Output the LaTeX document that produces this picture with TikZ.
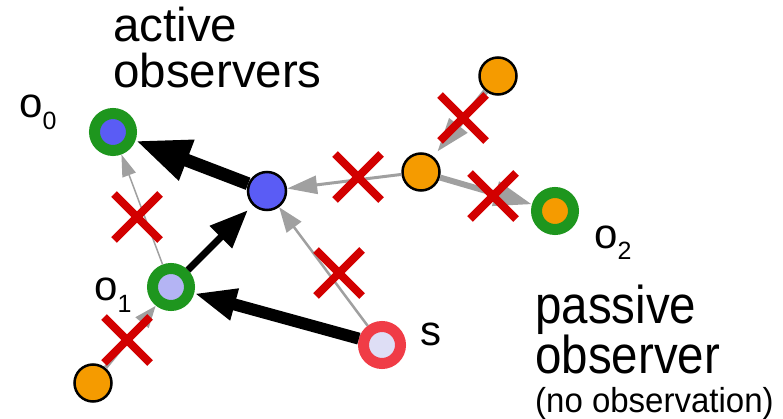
\documentclass[tikz,border=0pt]{standalone}
\usepackage{fontspec}
\setmainfont{Liberation Sans}
\usetikzlibrary{arrows.meta,calc}
\definecolor{ogreen}{RGB}{30,150,30}
\definecolor{oblue}{RGB}{90,92,245}
\definecolor{olav}{RGB}{180,180,244}
\definecolor{sred}{RGB}{240,60,70}
\definecolor{slav}{RGB}{222,222,245}
\definecolor{oorange}{RGB}{245,155,0}
\definecolor{egray}{RGB}{160,160,160}
\definecolor{xred}{RGB}{210,0,0}
\begin{document}
\begin{tikzpicture}[x=1pt,y=-1pt,
  ring/.style={circle, inner sep=0pt, minimum size=37pt, line width=11pt, draw=ogreen},
  srcring/.style={circle, inner sep=0pt, minimum size=37pt, line width=11pt, draw=sred, fill=slav},
  plainnode/.style={circle, inner sep=0pt, line width=2.5pt, draw=black},
  garrow/.style={draw=egray, fill=egray},
  barrow/.style={draw=black, fill=black},
  xmark/.pic={\draw[xred, line width=8pt] (-23,-23) -- (23,23) (-23,23) -- (23,-23);},
  txt/.style={anchor=base west, inner sep=0pt, font=\fontsize{47.5}{47.5}\selectfont},
]
\useasboundingbox (0,0) rectangle (783,419);

% nodes
\node[ring, fill=oblue] (o0) at (113,132) {};
\node[plainnode, fill=oblue, minimum size=38pt] (c) at (267,191) {};
\node[ring, fill=olav] (o1) at (171,287) {};
\node[srcring] (s) at (382,345) {};
\node[plainnode, fill=oorange, minimum size=37pt] (b) at (93,383) {};
\node[plainnode, fill=oorange, minimum size=37pt] (m) at (421,172) {};
\node[plainnode, fill=oorange, minimum size=37pt] (t) at (498,76) {};
\node[ring, fill=oorange] (o2) at (555,211) {};

% gray (blocked) edges
\draw[garrow, line width=1.5pt, -{Triangle[length=22pt,width=14pt]}] (o1) -- (o0);
\draw[garrow, line width=2.5pt, -{Triangle[length=25pt,width=18pt]}] (s) -- (c);
\draw[garrow, line width=3pt, -{Triangle[length=30pt,width=18pt]}] (m) -- (c);
\draw[garrow, line width=6pt, shorten >=6pt, -{Triangle[length=34pt,width=22pt]}] (t) -- (m);
\draw[garrow, line width=6pt, -{Triangle[length=38pt,width=24pt]}] (m) -- (o2);
\draw[garrow, line width=4pt, -{Triangle[length=22pt,width=16pt]}] (b) -- (o1);

% black edges
\draw[barrow, line width=13pt, -{Triangle[length=55pt,width=40pt]}] (c) -- (o0);
\draw[barrow, line width=7pt, shorten >=7pt, -{Triangle[length=38pt,width=30pt]}] (o1) -- (c);
\draw[barrow, line width=12pt, -{Triangle[length=42pt,width=30pt]}] (s) -- (o1);

% crosses
\pic at (137,217) {xmark};
\pic at (358,177) {xmark};
\pic at (463,118) {xmark};
\pic at (493,196) {xmark};
\pic at (339,273) {xmark};
\pic at (127,340) {xmark};

% labels
\node[txt] (la) at (113,42) {active};
\node[txt] (lb) at (113,88) {observers};
\node[txt] (lp) at (535,323) {\scalebox{1}[1.12]{passive}};
\node[txt] (lq) at (535,373) {\scalebox{1}[1.12]{observer}};
\node[anchor=base west, inner sep=0pt, font=\fontsize{33}{33}\selectfont] (ln) at (535,412) {\scalebox{1}[1.05]{(no observation)}};
\node[anchor=base west, inner sep=0pt] (l0) at (19,118) {\fontsize{42}{42}\selectfont o\fontsize{25}{25}\selectfont\raisebox{-12pt}{0}};
\node[anchor=base west, inner sep=0pt] (l1) at (94,300) {\fontsize{42}{42}\selectfont o\fontsize{25}{25}\selectfont\raisebox{-12pt}{1}};
\node[anchor=base west, inner sep=0pt] (l2) at (594,248) {\fontsize{42}{42}\selectfont o\fontsize{25}{25}\selectfont\raisebox{-12pt}{2}};
\node[anchor=base west, inner sep=0pt, font=\fontsize{42}{42}\selectfont] (ls) at (420,345) {s};
\end{tikzpicture}
\end{document}
